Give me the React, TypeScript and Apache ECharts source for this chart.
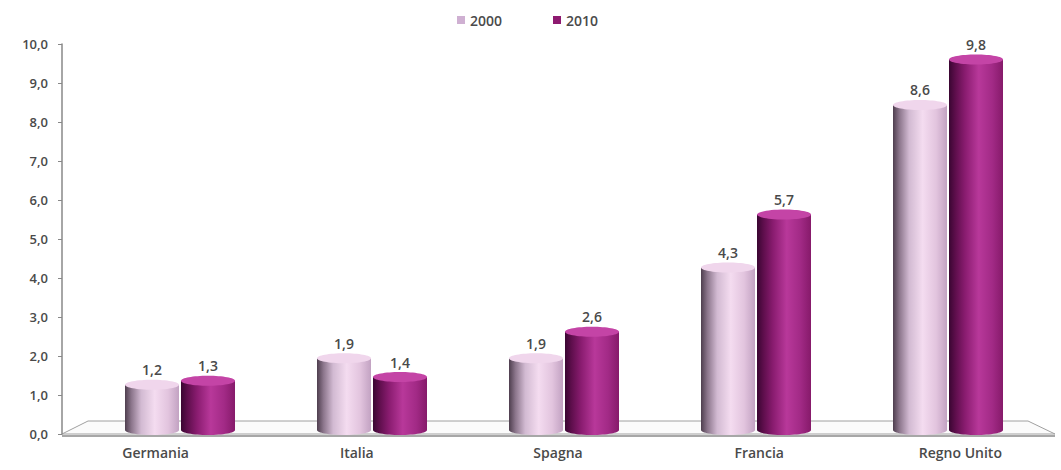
import React, { useEffect, useRef } from "react";
import * as echarts from "echarts";

const categories = ["Germania", "Italia", "Spagna", "Francia", "Regno Unito"];
const values2000 = [1.2, 1.9, 1.9, 4.3, 8.6];
const values2010 = [1.3, 1.4, 2.6, 5.7, 9.8];
const seriesNames = ["2000", "2010"];

const FONT = "Open Sans";
const TEXT = "#4a4a4a";
const fmt = (v: number) => v.toFixed(1).replace(".", ",");

function gradient2000() {
  return new echarts.graphic.LinearGradient(0, 0, 1, 0, [
    { offset: 0, color: "#4e3e4e" },
    { offset: 0.12, color: "#8c768c" },
    { offset: 0.3, color: "#d2bad2" },
    { offset: 0.55, color: "#f4dcf0" },
    { offset: 0.8, color: "#e2c4de" },
    { offset: 1, color: "#c2a2c2" },
  ]);
}
function gradient2010() {
  return new echarts.graphic.LinearGradient(0, 0, 1, 0, [
    { offset: 0, color: "#3a0632" },
    { offset: 0.12, color: "#5e0e4c" },
    { offset: 0.3, color: "#8a1c70" },
    { offset: 0.55, color: "#b8389a" },
    { offset: 0.8, color: "#a22a86" },
    { offset: 1, color: "#861a6a" },
  ]);
}

function makeRender(sign: number, grad: () => any, topColor: string) {
  return (params: any, api: any) => {
    const cat = api.value(0);
    const val = api.value(1);
    const top = api.coord([cat, val]);
    const base = api.coord([cat, 0]);
    const w = 54;
    const ry = 5;
    const cx = top[0] + sign * 28;
    return {
      type: "group",
      children: [
        { type: "ellipse", shape: { cx, cy: base[1], rx: w / 2, ry }, style: { fill: grad() } },
        {
          type: "rect",
          shape: { x: cx - w / 2, y: top[1], width: w, height: base[1] - top[1] },
          style: { fill: grad() },
        },
        { type: "ellipse", shape: { cx, cy: top[1], rx: w / 2, ry }, style: { fill: topColor } },
        {
          type: "text",
          x: cx,
          y: top[1] - ry - 3,
          style: {
            text: fmt(val),
            align: "center",
            verticalAlign: "bottom",
            fill: TEXT,
            fontSize: 14,
            fontWeight: 600,
            fontFamily: FONT,
          },
        },
      ],
    };
  };
}

export default function App() {
  const ref = useRef<HTMLDivElement>(null);
  useEffect(() => {
    if (!ref.current) return;
    const chart = echarts.init(ref.current, undefined, { renderer: "svg" });
    chart.setOption({
      animation: false,
      backgroundColor: "#ffffff",
      textStyle: { fontFamily: FONT },
      legend: {
        top: 8,
        left: 452,
        icon: "rect",
        itemWidth: 8,
        itemHeight: 8,
        itemGap: 51,
        textStyle: { fontSize: 14, fontWeight: 600, color: TEXT, fontFamily: FONT },
        data: [
          { name: seriesNames[0], itemStyle: { color: "#cfb0d2" } },
          { name: seriesNames[1], itemStyle: { color: "#8e1a70" } },
        ],
      },
      graphic: [
        {
          type: "polygon",
          z: 0,
          shape: { points: [[62, 434], [88, 421], [1028, 421], [1055, 434]] },
          style: { fill: "#fbfbfb", stroke: "#a0a0a0", lineWidth: 1 },
        },
        {
          type: "line",
          z: 0,
          shape: { x1: 62, y1: 436, x2: 1055, y2: 436 },
          style: { stroke: "#8a8a8a", lineWidth: 1.5 },
        },
      ],
      grid: [
        { left: 62, top: 44, height: 390, width: 10 },
        { left: 55, top: 44, height: 390, width: 1010 },
        { left: 84, top: 52, height: 378, width: 960 },
      ],
      xAxis: [
        { gridIndex: 0, type: "value", show: false },
        {
          gridIndex: 1,
          type: "category",
          data: categories,
          axisLine: { show: false },
          axisTick: { show: false },
          axisLabel: {
            fontSize: 14,
            fontWeight: 600,
            color: TEXT,
            margin: 11,
            fontFamily: FONT,
          },
        },
        { gridIndex: 2, type: "category", data: categories, show: false },
      ],
      yAxis: [
        {
          gridIndex: 0,
          type: "value",
          min: 0,
          max: 10,
          interval: 1,
          axisLine: { show: true, lineStyle: { color: "#888888", width: 1.5 } },
          axisTick: { show: true, length: 4, lineStyle: { color: "#888888" } },
          splitLine: { show: false },
          axisLabel: {
            fontSize: 13,
            fontWeight: 600,
            color: TEXT,
            margin: 14,
            fontFamily: FONT,
            formatter: (v: number) => fmt(v),
          },
        },
        { gridIndex: 1, type: "value", min: 0, max: 10, show: false },
        { gridIndex: 2, type: "value", min: 0, max: 10, show: false },
      ],
      series: [
        {
          name: seriesNames[0],
          type: "custom",
          xAxisIndex: 2,
          yAxisIndex: 2,
          z: 3,
          itemStyle: { color: "#cfb0d2" },
          encode: { x: 0, y: 1 },
          data: values2000.map((v, i) => [i, v]),
          renderItem: makeRender(-1, gradient2000, "#f0d6ec"),
        },
        {
          name: seriesNames[1],
          type: "custom",
          xAxisIndex: 2,
          yAxisIndex: 2,
          z: 3,
          itemStyle: { color: "#8e1a70" },
          encode: { x: 0, y: 1 },
          data: values2010.map((v, i) => [i, v]),
          renderItem: makeRender(1, gradient2010, "#c444a6"),
        },
      ],
    });
    return () => chart.dispose();
  }, []);
  return (
    <div
      ref={ref}
      style={{ position: "fixed", left: 0, top: 0, width: 1061, height: 470 }}
    />
  );
}
